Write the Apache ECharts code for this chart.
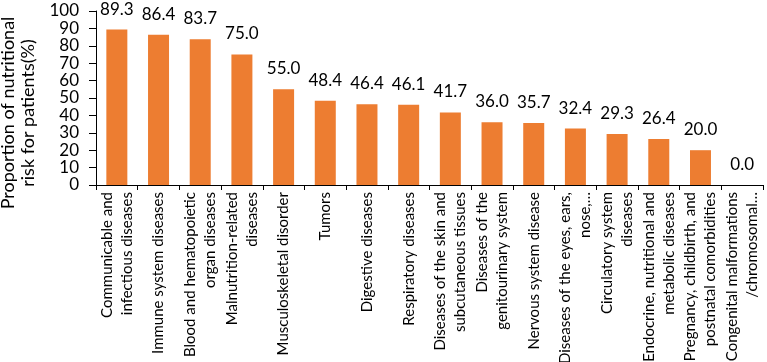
<!DOCTYPE html>
<html>
<head>
<meta charset="utf-8">
<script src="https://cdn.jsdelivr.net/npm/echarts@6/dist/echarts.min.js"></script>
<style>
  html, body { margin: 0; padding: 0; background: #fff; }
  #main { width: 767px; height: 362px; }
</style>
</head>
<body>
<div id="main"></div>
<script>
// disease groups (x axis)
var categories = [
    'Communicable and\ninfectious diseases',
    'Immune system diseases',
    'Blood and hematopoietic\norgan diseases',
    'Malnutrition-related\ndiseases',
    'Musculoskeletal disorder',
    'Tumors',
    'Digestive diseases',
    'Respiratory diseases',
    'Diseases of the skin and\nsubcutaneous tissues',
    'Diseases of the\ngenitourinary system',
    'Nervous system disease',
    'Diseases of the eyes, ears,\nnose,…',
    'Circulatory system\ndiseases',
    'Endocrine, nutritional and\nmetabolic diseases',
    'Pregnancy, childbirth, and\npostnatal comorbidities',
    'Congenital malformations\n/chromosomal…'
];
// proportion of patients at nutritional risk (%)
var riskValues = [89.3, 86.4, 83.7, 75.0, 55.0, 48.4, 46.4, 46.1, 41.7, 36.0, 35.7, 32.4, 29.3, 26.4, 20.0, 0.0];

var yMin = 0, yMax = 100, yStep = 10;
var font = 'Lato, "Open Sans", sans-serif';

var chart = echarts.init(document.getElementById('main'), null, { renderer: 'canvas' });

var option = {
    animation: false,
    backgroundColor: '#fff',
    grid: {
        left: 96, right: 4, top: 11, bottom: 177,
        containLabel: false, outerBoundsMode: 'none'
    },
    xAxis: {
        type: 'category',
        data: categories,
        axisLine: { lineStyle: { color: '#000', width: 1 } },
        axisTick: { show: true, alignWithLabel: false, length: 5, lineStyle: { color: '#000' } },
        axisLabel: {
            interval: 0, rotate: 90, margin: 7,
            fontSize: 15, lineHeight: 20, color: '#000', fontFamily: font
        },
        splitLine: { show: false }
    },
    yAxis: {
        type: 'value',
        min: yMin, max: yMax, interval: yStep,
        name: 'Proportion of nutritional\nrisk for patients(%)',
        nameLocation: 'middle',
        nameRotate: 90,
        nameGap: 55,
        nameTextStyle: {
            fontSize: 18, lineHeight: 20, color: '#000', fontFamily: font,
            padding: [0, 30, 0, 0]
        },
        axisLine: { show: true, lineStyle: { color: '#000', width: 1 } },
        axisTick: { show: true, length: 7, lineStyle: { color: '#000' } },
        axisLabel: { fontSize: 17, color: '#000', margin: 17, fontFamily: font },
        splitLine: { show: false }
    },
    series: [{
        type: 'bar',
        data: riskValues,
        barWidth: 21,
        itemStyle: { color: '#ED7D31' },
        label: {
            show: true, position: 'top', distance: 12,
            fontSize: 17, color: '#000', fontFamily: font,
            formatter: function (p) { return p.value.toFixed(1); }
        }
    }]
};
chart.setOption(option);
</script>
</body>
</html>
